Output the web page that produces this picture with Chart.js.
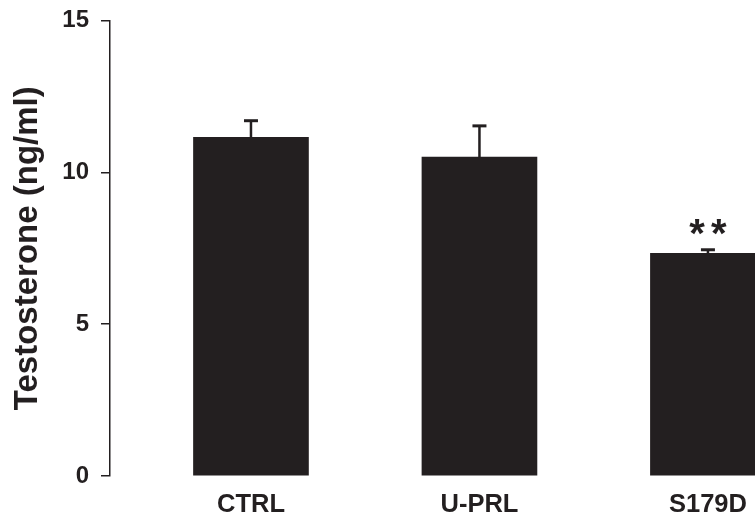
<!DOCTYPE html>
<html>
<head>
<meta charset="utf-8">
<script src="https://cdn.jsdelivr.net/npm/chart.js@4/dist/chart.umd.min.js"></script>
<style>
  html, body { margin: 0; padding: 0; background: #fff; overflow: hidden; }
  #wrap { width: 755px; height: 519px; position: relative; }
</style>
</head>
<body>
<div id="wrap"><canvas id="c"></canvas></div>
<script>
// Serum testosterone per treatment group (mean + SEM)
const categories = ['CTRL', 'U-PRL', 'S179D'];
const testosterone = [11.15, 10.5, 7.33];
const sem = [0.55, 1.03, 0.12];
const significance = ['', '', '**'];
const yTicks = [0, 5, 10, 15];

const INK = '#231f20';
const FONT = "'Liberation Sans', Arial, sans-serif";

// upper error bars and significance marks on top of each bar
const errorBars = {
  id: 'errorBars',
  afterDatasetsDraw(chart) {
    const { ctx } = chart;
    const y = chart.scales.y;
    const meta = chart.getDatasetMeta(0);
    ctx.save();
    ctx.strokeStyle = INK;
    ctx.fillStyle = INK;
    meta.data.forEach((bar, i) => {
      const top = y.getPixelForValue(testosterone[i] + sem[i]);
      ctx.lineWidth = 2.5;
      ctx.beginPath();
      ctx.moveTo(bar.x, bar.y);
      ctx.lineTo(bar.x, top);
      ctx.stroke();
      ctx.lineWidth = 3;
      ctx.beginPath();
      ctx.moveTo(bar.x - 7, top);
      ctx.lineTo(bar.x + 7, top);
      ctx.stroke();
      if (significance[i]) {
        ctx.font = 'bold 40px ' + FONT;
        ctx.textAlign = 'center';
        ctx.textBaseline = 'middle';
        ctx.letterSpacing = '6px';
        ctx.fillText(significance[i], bar.x + 3, top - 14);
      }
    });
    ctx.restore();
  }
};

new Chart(document.getElementById('c'), {
  type: 'bar',
  data: {
    datasets: [{
      data: categories.map((c, i) => ({ x: i + 1, y: testosterone[i] })),
      backgroundColor: INK,
      borderWidth: 0,
      barThickness: 115
    }]
  },
  options: {
    responsive: true,
    maintainAspectRatio: false,
    animation: false,
    devicePixelRatio: 1,
    layout: { padding: { top: 20.5, right: 0, bottom: 0, left: 0 } },
    plugins: { legend: { display: false }, tooltip: { enabled: false } },
    scales: {
      x: {
        type: 'linear',
        offset: false,
        min: 0.383,
        max: 3.206,
        grid: { display: false, offset: false },
        border: { display: false },
        afterBuildTicks(scale) {
          scale.ticks = categories.map((c, i) => ({ value: i + 1 }));
        },
        afterFit(scale) { scale.height = 43; },
        ticks: {
          autoSkip: false,
          maxRotation: 0,
          padding: 6,
          color: INK,
          font: { family: FONT, size: 25.5, weight: 'bold' },
          callback: (v) => categories[v - 1]
        }
      },
      y: {
        min: 0,
        max: 15,
        afterBuildTicks(scale) {
          scale.ticks = yTicks.map(v => ({ value: v }));
        },
        afterFit(scale) {
          scale.width = 110;
          scale.paddingTop = 0;
          scale.paddingBottom = 0;
        },
        grid: {
          drawOnChartArea: false,
          drawTicks: true,
          tickLength: 9,
          color: INK,
          lineWidth: 1.5
        },
        border: { display: true, color: INK, width: 1.5 },
        ticks: {
          padding: 12,
          color: INK,
          font: { family: FONT, size: 24, weight: 'bold' }
        },
        title: {
          display: true,
          text: 'Testosterone (ng/ml)',
          color: INK,
          padding: { top: 8, bottom: 0 },
          font: { family: FONT, size: 33, weight: 'bold' }
        }
      }
    }
  },
  plugins: [errorBars]
});
</script>
</body>
</html>
